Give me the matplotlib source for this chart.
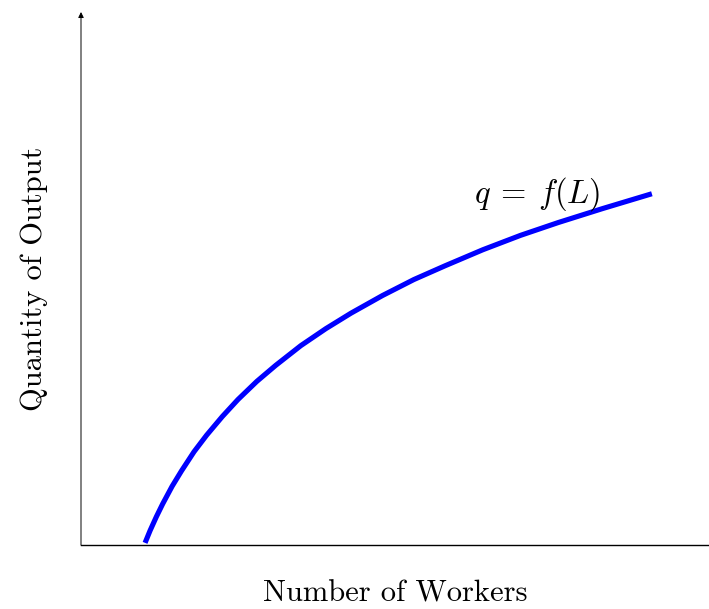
import numpy as np
import matplotlib
matplotlib.use('Agg')
import matplotlib.pyplot as plt

############################################################################################
# production function (workers, output)
workers = [1.02, 1.10, 1.20, 1.30, 1.45, 1.60, 1.80, 2.00, 2.25, 2.50, 2.80, 3.10, 3.50, 3.90,
           4.30, 4.80, 5.30, 5.80, 6.40, 7.00, 7.60, 8.30, 9.09]
output  = [0.04, 0.27, 0.53, 0.77, 1.10, 1.39, 1.75, 2.06, 2.41, 2.73, 3.07, 3.37, 3.74, 4.06,
           4.35, 4.68, 4.98, 5.24, 5.54, 5.81, 6.05, 6.31, 6.59]
curve_label = r'$q\:=\:f(L)$'
x_label     = 'Number of Workers'
y_label     = 'Quantity of Output'

############################################################################################
plt.rcParams['font.family']      = 'cmr10'
plt.rcParams['mathtext.fontset'] = 'cm'
plt.rcParams['axes.formatter.use_mathtext'] = True

fig = plt.figure(figsize=(7.09, 6.09), dpi=100)
ax  = fig.add_axes([81/709, 64/609, 628/709, 533/609])
ax.set_xlim(0, 10)
ax.set_ylim(0, 10)

ax.plot(workers, output, color='#0000ff', lw=3.7, solid_capstyle='butt', solid_joinstyle='round')
ax.text(6.26, 6.59, curve_label, fontsize=23.5, ha='left', va='center')

# axes: plain bottom line, y axis drawn as arrow
for s in ['top', 'right', 'left']: ax.spines[s].set_visible(False)
ax.spines['bottom'].set_linewidth(1.0)
ax.annotate('', xy=(0, 1.0), xytext=(0, 0), xycoords='axes fraction',
            arrowprops=dict(arrowstyle='-|>', lw=0.7, color='black', mutation_scale=8, shrinkA=0, shrinkB=0))
ax.set_xticks([])
ax.set_yticks([])

ax.set_xlabel(x_label, fontsize=22, labelpad=25)
ax.set_ylabel(y_label, fontsize=22, labelpad=24)

fig.savefig('out.png', dpi=100)
